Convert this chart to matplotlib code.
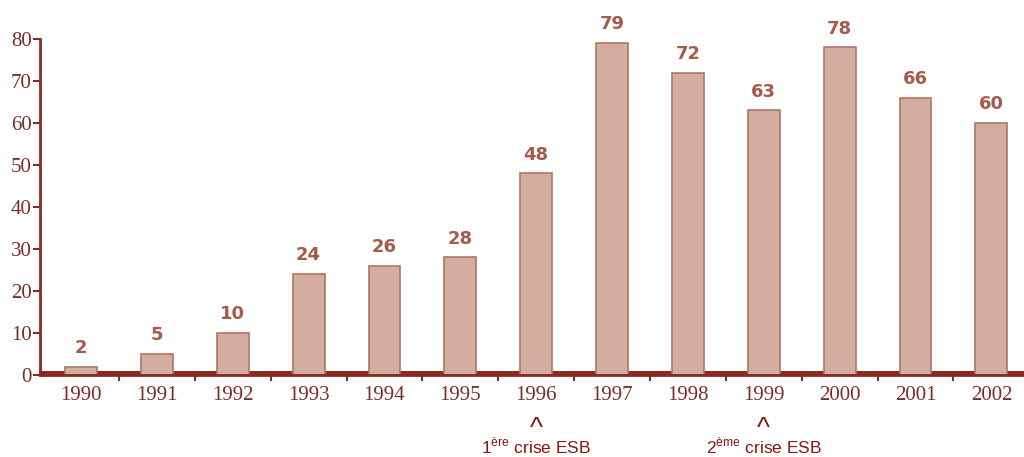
import matplotlib
matplotlib.use("Agg")
import matplotlib.pyplot as plt
import matplotlib.transforms as mtransforms
import numpy as np

years = ["1990", "1991", "1992", "1993", "1994", "1995", "1996",
         "1997", "1998", "1999", "2000", "2001", "2002"]
values = [2, 5, 10, 24, 26, 28, 48, 79, 72, 63, 78, 66, 60]
y_ticks = [0, 10, 20, 30, 40, 50, 60, 70, 80]
crises = [("1996", "1", "ère"), ("1999", "2", "ème")]

bar_fill = "#D3AD9F"
bar_edge = "#B27566"
label_col = "#A65B49"
axis_col = "#8A2A20"
tick_col = "#7A2C27"
note_col = "#8B1414"

fig = plt.figure(figsize=(10.24, 4.57), dpi=100)
ax = fig.add_axes([40 / 1024, 82 / 457, 984 / 1024, 336 / 457])

x = np.arange(len(years))
# floor band behind the bars
ax.axhspan(0, 1.0, color=axis_col, zorder=1, lw=0)
ax.bar(x, values, width=0.42, color=bar_fill, edgecolor=bar_edge,
       linewidth=1.2, zorder=2)
for xi, v in zip(x, values):
    ax.annotate(str(v), (xi, v), xytext=(0, 7), textcoords="offset points",
                ha="center", va="bottom", fontsize=13, fontweight="bold",
                color=label_col, family="DejaVu Sans", clip_on=False)

ax.set_xlim(-0.54, len(years) - 0.57)
ax.set_ylim(0, 80)

for s in ("top", "right"):
    ax.spines[s].set_visible(False)
ax.spines["left"].set_color(axis_col)
ax.spines["left"].set_linewidth(2)
ax.spines["bottom"].set_color(axis_col)
ax.spines["bottom"].set_linewidth(2)

ax.set_yticks(y_ticks)
ax.set_yticklabels([str(t) for t in y_ticks], family="Liberation Serif",
                   fontsize=15, color=tick_col)
ax.tick_params(axis="y", direction="out", length=5, width=1.5,
               color=axis_col, pad=1)

ax.set_xticks(x)
ax.set_xticklabels(years, family="Liberation Serif", fontsize=15,
                   color=tick_col)
ax.tick_params(axis="x", which="major", length=0, pad=8)
ax.set_xticks(x[:-1] + 0.5, minor=True)
ax.tick_params(axis="x", which="minor", direction="out", length=4,
               width=1.5, color=axis_col)

trans = mtransforms.blended_transform_factory(ax.transData, fig.transFigure)
for year, num, sup in crises:
    xi = years.index(year)
    ax.text(xi, 1 - 429 / 457, "^", transform=trans, ha="center",
            va="center", fontsize=20, color=note_col,
            family="Liberation Sans", clip_on=False)
    ax.text(xi, 1 - 446 / 457, num + r"$^{\mathregular{" + sup + "}}$ crise ESB",
            transform=trans, ha="center", va="center", fontsize=12.5,
            color=note_col, family="Liberation Sans", clip_on=False)

fig.savefig("out.png", dpi=100)
